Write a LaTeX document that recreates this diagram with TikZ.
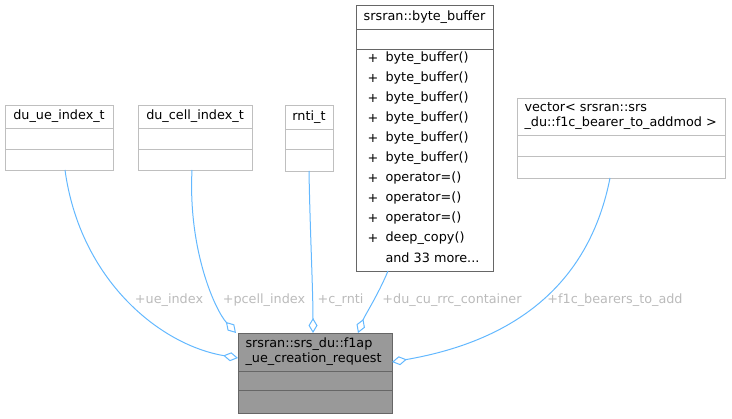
\documentclass[tikz,border=0pt]{standalone}
\usepackage{fontspec}
\setmainfont{DejaVu Sans}
\usetikzlibrary{arrows.meta}
\definecolor{edgeblue}{HTML}{63B8FF}
\definecolor{boxlight}{HTML}{BFBFBF}
\definecolor{boxdark}{HTML}{666666}
\definecolor{mainfill}{HTML}{999999}
\definecolor{lblgray}{HTML}{BBBBBB}

\begin{document}
\begin{tikzpicture}[x=1pt,y=-1pt,font=\fontsize{12.8}{15}\selectfont,class box/.style={draw=boxlight,fill=white,line width=1pt,anchor=north west,inner sep=0pt}]
\tikzstyle{member edge} = [draw=edgeblue,line width=1pt,-{Diamond[open,length=15pt,width=9pt]}]
\tikzstyle{edge label} = [text=lblgray]

\useasboundingbox (0,0) rectangle (732,419);

% Member types
\node[class box,minimum width=108pt,minimum height=65pt] (ueidx) at (5,105) {};
\draw[boxlight] (5,128) -- (113,128) (5,149) -- (113,149);
\node at (59,116.5) (ueidxname) {du\_ue\_index\_t};

\node[class box,minimum width=114pt,minimum height=65pt] (cellidx) at (138,105) {};
\draw[boxlight] (138,128) -- (252,128) (138,149) -- (252,149);
\node at (195,116.5) (cellidxname) {du\_cell\_index\_t};

\node[class box,minimum width=48pt,minimum height=66pt] (rnti) at (285,105) {};
\draw[boxlight] (285,129) -- (333,129) (285,149) -- (333,149);
\node at (309,117) (rntiname) {rnti\_t};

\node[class box,draw=boxdark,minimum width=137pt,minimum height=266pt] (bytebuf) at (356,5) {};
\draw[boxdark] (356,29) -- (493,29) (356,49) -- (493,49);
\node at (424.5,17) (bytebufname) {srsran::byte\_buffer};
\node at (373,58) () {+};  \node[anchor=west] at (382,58) () {byte\_buffer()};
\node at (373,78) () {+};  \node[anchor=west] at (382,78) () {byte\_buffer()};
\node at (373,98) () {+};  \node[anchor=west] at (382,98) () {byte\_buffer()};
\node at (373,118) () {+}; \node[anchor=west] at (382,118) () {byte\_buffer()};
\node at (373,138) () {+}; \node[anchor=west] at (382,138) () {byte\_buffer()};
\node at (373,158) () {+}; \node[anchor=west] at (382,158) () {byte\_buffer()};
\node at (373,178) () {+}; \node[anchor=west] at (382,178) () {operator=()};
\node at (373,198) () {+}; \node[anchor=west] at (382,198) () {operator=()};
\node at (373,218) () {+}; \node[anchor=west] at (382,218) () {operator=()};
\node at (373,238) () {+}; \node[anchor=west] at (382,238) () {deep\_copy()};
\node[anchor=west] at (382,258) () {and 33 more...};

\node[class box,minimum width=208pt,minimum height=80pt] (bearers) at (517,98) {};
\draw[boxlight] (517,135) -- (725,135) (517,156) -- (725,156);
\node[anchor=west,align=left] at (521,116.5) (bearersname) {vector< srsran::srs\\\_du::f1c\_bearer\_to\_addmod >};

% Request class
\node[class box,draw=boxdark,fill=mainfill,minimum width=154pt,minimum height=80pt] (req) at (238,333) {};
\draw[boxdark] (238,371) -- (392,371) (238,390) -- (392,390);
\node[anchor=west,align=left] at (242,352) (reqname) {srsran::srs\_du::f1ap\\\_ue\_creation\_request};

\coordinate (ueidx out) at (65,170);
\coordinate (cellidx out) at (192,170);
\coordinate (rnti out) at (309,171);
\coordinate (bytebuf out) at (388,271);
\coordinate (bearers out) at (610,178);
\coordinate (req ue) at (238,358);
\coordinate (req cell) at (236,333);
\coordinate (req rnti) at (313,333);
\coordinate (req rrc) at (358,333);
\coordinate (req bearers) at (392,362);

\draw[member edge] (ueidx out) .. controls (80,280) and (160,345) .. (req ue);
\draw[member edge] (cellidx out) .. controls (188,250) and (215,310) .. (req cell);
\draw[member edge] (rnti out) .. controls (310,230) and (313,290) .. (req rnti);
\draw[member edge] (bytebuf out) .. controls (378,295) and (365,315) .. (req rrc);
\draw[member edge] (bearers out) .. controls (590,280) and (520,340) .. (req bearers);

% Labels
\node[edge label] at (169,300) (ueidxlbl) {+ue\_index};
\node[edge label] at (264,300) (cellidxlbl) {+pcell\_index};
\node[edge label] at (340.5,300) (rntilbl) {+c\_rnti};
\node[edge label] at (452,300) (rrclbl) {+du\_cu\_rrc\_container};
\node[edge label] at (615,300) (bearerslbl) {+f1c\_bearers\_to\_add};

\end{tikzpicture}
\end{document}
